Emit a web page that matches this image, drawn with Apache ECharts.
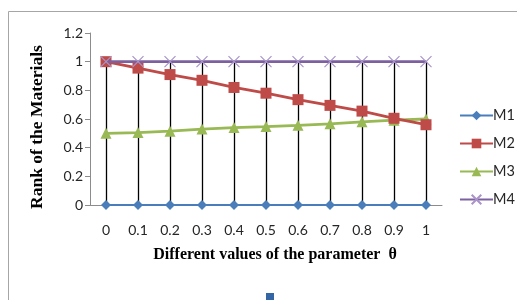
<!DOCTYPE html>
<html><head><meta charset="utf-8">
<script src="https://cdn.jsdelivr.net/npm/echarts@6/dist/echarts.min.js"></script>
<style>html,body{margin:0;padding:0;background:#fff}#c{width:517px;height:300px}</style>
</head><body><div id="c"></div>
<script>
var categories = ['0','0.1','0.2','0.3','0.4','0.5','0.6','0.7','0.8','0.9','1'];
var m1 = [0,0,0,0,0,0,0,0,0,0,0];
var m2 = [1,0.955,0.91,0.87,0.82,0.78,0.735,0.695,0.655,0.605,0.56];
var m3 = [0.5,0.505,0.515,0.53,0.54,0.547,0.556,0.566,0.58,0.592,0.6];
var m4 = [1,1,1,1,1,1,1,1,1,1,1];
var yTicks = [0,0.2,0.4,0.6,0.8,1,1.2];
var seriesNames = ['M1','M2','M3','M4'];

var highs = categories.map(function(_, i){ return Math.max(m1[i], m2[i], m3[i], m4[i]); });
var lows = categories.map(function(_, i){ return Math.min(m1[i], m2[i], m3[i], m4[i]); });

var chart = echarts.init(document.getElementById('c'));
var labelFont = {fontFamily:'Lato', fontSize:14, color:'#262626'};
var xPath = 'path://M0,0L10,10M10,0L0,10';
chart.setOption({
  animation:false,
  grid:{left:90, top:33, width:352, height:172},
  legend:{
    orient:'vertical', left:459, top:108, padding:0, itemGap:13, itemWidth:33, itemHeight:12,
    data:seriesNames,
    textStyle:{fontFamily:'Lato', fontSize:14.5, color:'#262626', padding:[0,0,0,-5]}
  },
  xAxis:{
    type:'category', data:categories, boundaryGap:true,
    axisLine:{lineStyle:{color:'#8c8c8c', width:1}},
    axisTick:{show:false},
    axisLabel:Object.assign({margin:18}, labelFont),
    splitLine:{show:false}
  },
  yAxis:{
    type:'value', min:0, max:1.2, interval:0.2,
    axisLine:{show:true, lineStyle:{color:'#8c8c8c', width:1}},
    axisTick:{show:true, length:5, lineStyle:{color:'#8c8c8c'}},
    axisLabel:Object.assign({margin:7, formatter:function(v){ return String(Math.round(v*10)/10); }}, labelFont),
    splitLine:{show:false}
  },
  graphic:[
    {type:'rect', shape:{x:8.5, y:11.5, width:600, height:400}, style:{fill:'none', stroke:'#a6a6a6', lineWidth:1}, silent:true, z:-10},
    {type:'text', x:275, y:255, style:{text:'Different values of the parameter  \u03b8', font:'bold 16px "Liberation Serif"', fill:'#000', textAlign:'center', textVerticalAlign:'middle'}},
    {type:'text', x:37, y:127, rotation:Math.PI/2, style:{text:'Rank of the Materials', font:'bold 17.5px "Liberation Serif"', fill:'#000', textAlign:'center', textVerticalAlign:'middle'}},
    {type:'rect', shape:{x:266, y:293, width:8, height:8}, style:{fill:'#3465a4'}}
  ],
  series:[
    {
      name:'hilo', type:'custom', silent:true, z:1,
      data:categories.map(function(_, i){ return [i, lows[i], highs[i]]; }),
      renderItem:function(params, api){
        var a = api.coord([api.value(0), api.value(1)]);
        var b = api.coord([api.value(0), api.value(2)]);
        return {type:'line', shape:{x1:Math.round(a[0])+0.5, y1:a[1], x2:Math.round(b[0])+0.5, y2:b[1]}, style:{stroke:'#000', lineWidth:1.3}};
      }
    },
    {name:'M1', type:'line', data:m1, symbol:'diamond', symbolSize:10, z:3,
     lineStyle:{color:'#4a7ebb', width:2.2}, itemStyle:{color:'#4a7ebb'}},
    {name:'M2', type:'line', data:m2, symbol:'rect', symbolSize:11, z:4,
     lineStyle:{color:'#be4b48', width:2.8}, itemStyle:{color:'#be4b48'}},
    {name:'M3', type:'line', data:m3, symbol:'triangle', symbolSize:11, z:3,
     lineStyle:{color:'#98b954', width:2.8}, itemStyle:{color:'#98b954'}},
    {name:'M4', type:'line', data:m4, symbol:xPath, symbolSize:11, z:5,
     lineStyle:{color:'#7d60a0', width:2.8}, itemStyle:{color:'none', borderColor:'#a993c8', borderWidth:1.2}}
  ]
});
</script></body></html>
